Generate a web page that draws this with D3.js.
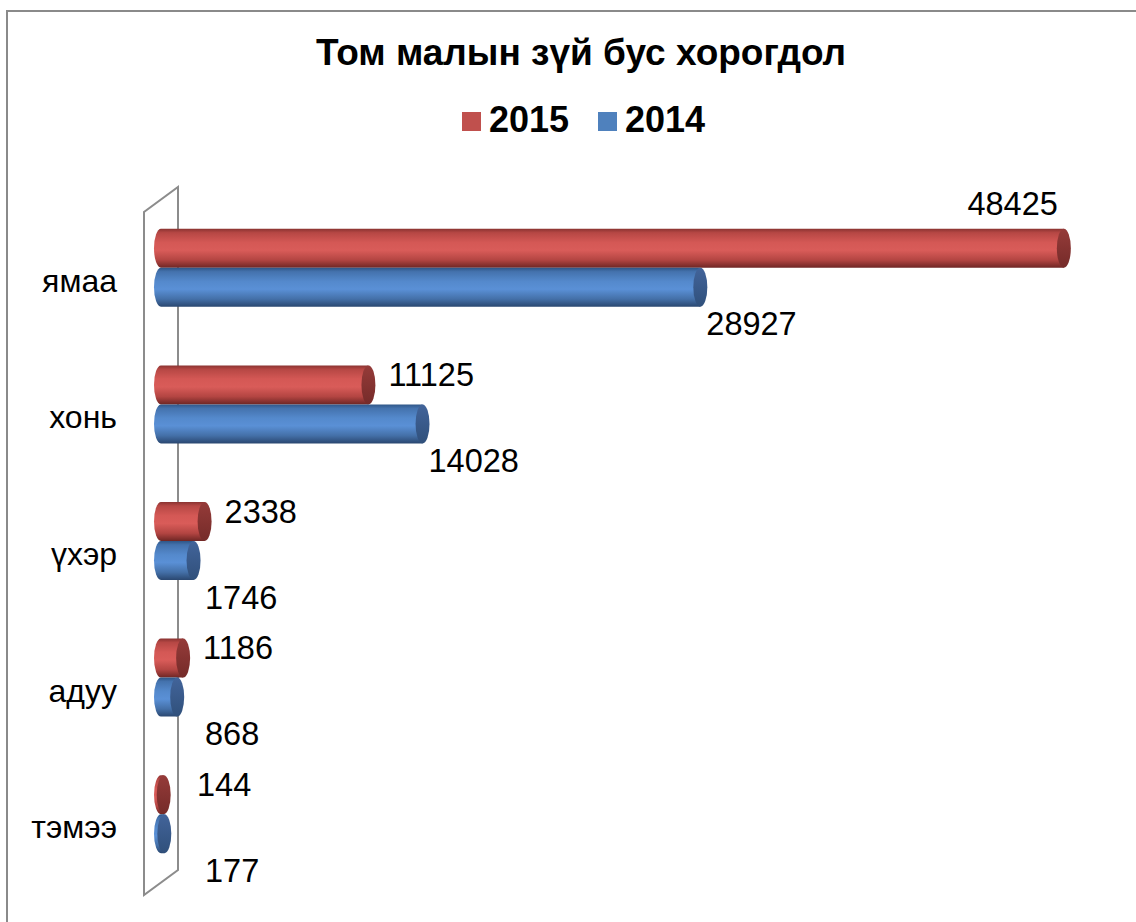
<!DOCTYPE html>
<html><head><meta charset="utf-8">
<script src="https://cdn.jsdelivr.net/npm/d3@7"></script>
<style>body{margin:0;background:#fff}svg{display:block}text{font-family:"Liberation Sans",Arial,sans-serif;fill:#000}</style>
</head><body>
<script>
const categories = ["ямаа","хонь","үхэр","адуу","тэмээ"];
const seriesNames = ["2015","2014"];
const values2015 = [48425,11125,2338,1186,144];
const values2014 = [28927,14028,1746,868,177];
const titleText = "Том малын зүй бус хорогдол";

const W=1136,H=922;
const svg = d3.select("body").append("svg").attr("width",W).attr("height",H);
const defs = svg.append("defs");
function grad(id, stops){
  const g=defs.append("linearGradient").attr("id",id).attr("x1",0).attr("y1",0).attr("x2",0).attr("y2",1);
  stops.forEach(([o,c])=>g.append("stop").attr("offset",o).attr("stop-color",c));
}
grad("gRed",[[0,"#8a3331"],[0.1,"#b64744"],[0.35,"#d45855"],[0.55,"#d95c59"],[0.8,"#b34542"],[1,"#6e2624"]]);
grad("gBlue",[[0,"#2f5687"],[0.1,"#4472ad"],[0.35,"#5489cc"],[0.55,"#5a90d6"],[0.8,"#4470a8"],[1,"#2a4770"]]);
grad("gRedCap",[[0,"#953b39"],[1,"#752b29"]]);
grad("gBlueCap",[[0,"#42649a"],[1,"#30507b"]]);

// chart border
svg.append("rect").attr("x",7).attr("y",11).attr("width",1300).attr("height",1100)
  .attr("fill","none").attr("stroke","#8a8a8a").attr("stroke-width",2);

// title
svg.append("text").attr("x",581).attr("y",65).attr("text-anchor","middle")
  .attr("font-weight","bold").attr("font-size",37).text(titleText);

// legend
const legendColors = ["#c0504d","#4f81bd"];
const legendX = [462,598];
seriesNames.forEach((s,i)=>{
  svg.append("rect").attr("x",legendX[i]).attr("y",112).attr("width",19).attr("height",19).attr("fill",legendColors[i]);
  svg.append("text").attr("x",legendX[i]+27).attr("y",132).attr("font-weight","bold").attr("font-size",36).text(s);
});

// 3D wall geometry
const wallX=144, wallTop=212, wallBottom=895, dDx=34, dDy=-25;
svg.append("path")
  .attr("d",`M${wallX},${wallBottom} L${wallX},${wallTop} L${wallX+dDx},${wallTop+dDy} L${wallX+dDx},${wallBottom+dDy} Z`)
  .attr("fill","none").attr("stroke","#8c8c8c").attr("stroke-width",2);

const x = d3.scaleLinear().domain([0,50000]).range([wallX+dDx/2, wallX+dDx/2+932.2]);
const y = d3.scaleBand().domain(categories).range([wallTop+dDy/2, wallBottom+dDy/2]);
const barGroup = 78;
const inner = d3.scaleBand().domain(seriesNames).range([0,barGroup]);

// category labels
svg.append("g").selectAll("text").data(categories).join("text")
  .attr("x",117).attr("y",d=>y(d)+y.bandwidth()/2+24)
  .attr("text-anchor","end").attr("font-size",32).text(d=>d);

const series = [
  {name:"2015", values:values2015, fill:"url(#gRed)", cap:"url(#gRedCap)"},
  {name:"2014", values:values2014, fill:"url(#gBlue)", cap:"url(#gBlueCap)"}
];
const rx=7;
const gBars = svg.append("g");
series.forEach((s,si)=>{
  categories.forEach((c,i)=>{
    const v=s.values[i];
    const h=inner.bandwidth();
    const y0=y(c)+(y.bandwidth()-barGroup)/2+inner(s.name);
    const x0=x(0), x1=x(v), ry=h/2;
    gBars.append("path")
      .attr("d",`M${x1},${y0} L${x0},${y0} A${rx},${ry} 0 0 0 ${x0},${y0+h} L${x1},${y0+h} Z`)
      .attr("fill",s.fill);
    gBars.append("ellipse").attr("cx",x1).attr("cy",y0+ry).attr("rx",rx).attr("ry",ry).attr("fill",s.cap);
    // labels
    const center=y0+ry;
    let lx, ly, anchor="start";
    if(si===0){
      lx=Math.max(x1+20,197); ly=center+1;
      if(lx+90>W-10){ anchor="end"; lx=x1-6; ly=y0-14; }
    } else {
      lx=Math.max(x1+6,205); ly=center+48;
    }
    svg.append("text").attr("x",lx).attr("y",ly).attr("text-anchor",anchor)
      .attr("font-size",32.5).text(v);
  });
});
</script>
</body></html>
